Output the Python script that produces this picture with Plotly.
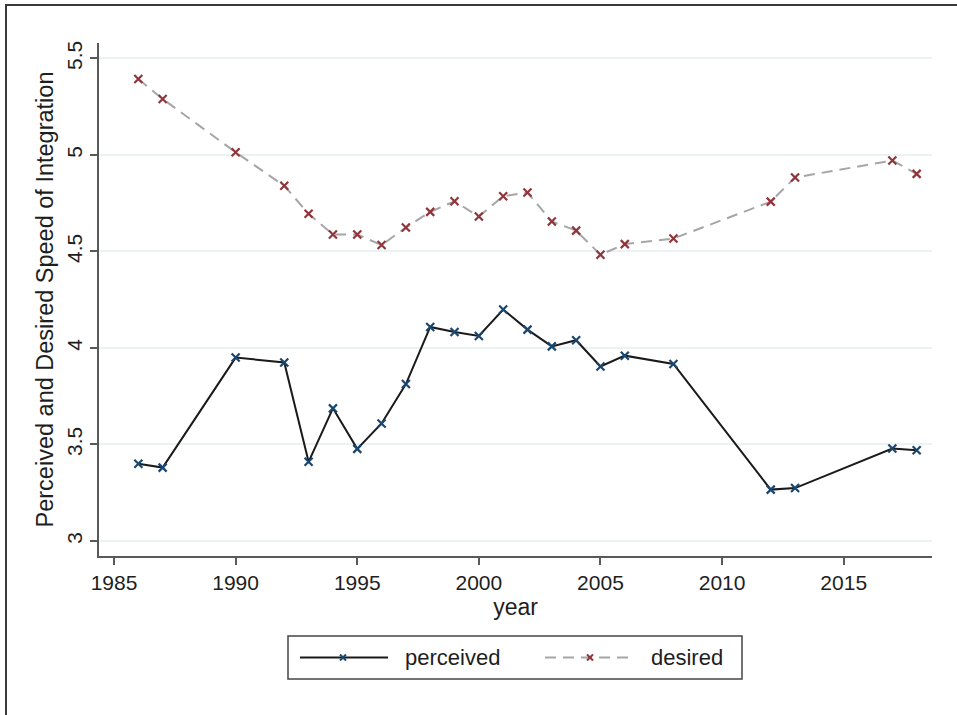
import plotly.graph_objects as go

# Survey years and mean scores
years = [1986, 1987, 1990, 1992, 1993, 1994, 1995, 1996, 1997, 1998, 1999, 2000,
         2001, 2002, 2003, 2004, 2005, 2006, 2008, 2012, 2013, 2017, 2018]
perceived = [3.40, 3.38, 3.95, 3.925, 3.41, 3.687, 3.477, 3.609, 3.813, 4.109, 4.083, 4.062,
             4.199, 4.095, 4.008, 4.040, 3.904, 3.960, 3.917, 3.266, 3.274, 3.479, 3.470]
desired = [5.393, 5.290, 5.014, 4.840, 4.695, 4.588, 4.588, 4.533, 4.624, 4.705, 4.760, 4.681,
           4.786, 4.805, 4.655, 4.608, 4.483, 4.538, 4.567, 4.758, 4.883, 4.971, 4.902]

x_ticks = [1985, 1990, 1995, 2000, 2005, 2010, 2015]
y_ticks = [3, 3.5, 4, 4.5, 5, 5.5]
y_ticklabels = ["3", "3.5", "4", "4.5", "5", "5.5"]

FONT = "Liberation Sans, Arial, sans-serif"
TXT = "#1e1e1e"
NAVY = "#1a476f"
MAROON = "#90353b"
AXIS = "#595959"
GREY_LINE = "#a6a6a6"

fig = go.Figure()
fig.add_trace(go.Scatter(
    x=years, y=perceived, mode="lines+markers", name="perceived",
    line=dict(color="#1a1a1a", width=2),
    marker=dict(symbol="x-thin", size=8, line=dict(color=NAVY, width=2.2)),
    showlegend=False,
))
fig.add_trace(go.Scatter(
    x=years, y=desired, mode="lines+markers", name="desired",
    line=dict(color=GREY_LINE, width=2, dash="11px,7px"),
    marker=dict(symbol="x-thin", size=8, line=dict(color=MAROON, width=2.2)),
    showlegend=False,
))

W, H = 957, 715
L, R, T, B = 99, 932, 43, 556


def px(x):
    return (x - L) / (R - L)


def py(y):
    return (B - y) / (B - T)


shapes = []
# outer frame
shapes.append(dict(type="rect", xref="paper", yref="paper",
                   x0=px(6), x1=px(965), y0=py(725), y1=py(5),
                   line=dict(color="#3a3a3a", width=2), fillcolor="rgba(0,0,0,0)", layer="below"))
# legend box
shapes.append(dict(type="rect", xref="paper", yref="paper",
                   x0=px(288), x1=px(742), y0=py(679), y1=py(636),
                   line=dict(color="#444444", width=1.5), fillcolor="white"))
ly = 657.5
# legend samples
shapes.append(dict(type="line", xref="paper", yref="paper",
                   x0=px(300), x1=px(388), y0=py(ly), y1=py(ly),
                   line=dict(color="#1a1a1a", width=2)))
shapes.append(dict(type="line", xref="paper", yref="paper",
                   x0=px(545), x1=px(635), y0=py(ly), y1=py(ly),
                   line=dict(color=GREY_LINE, width=2, dash="11px,7px")))
for cx, col in [(343, NAVY), (590, MAROON)]:
    for d in (1, -1):
        shapes.append(dict(type="line", xref="paper", yref="paper",
                           x0=px(cx - 3), x1=px(cx + 3), y0=py(ly - 3 * d), y1=py(ly + 3 * d),
                           line=dict(color=col, width=2)))

annotations = [
    dict(text="perceived", xref="paper", yref="paper", x=px(403), y=py(ly),
         xanchor="left", yanchor="middle", showarrow=False,
         font=dict(family=FONT, size=22, color=TXT)),
    dict(text="desired", xref="paper", yref="paper", x=px(649), y=py(ly),
         xanchor="left", yanchor="middle", showarrow=False,
         font=dict(family=FONT, size=22, color=TXT)),
]

fig.update_layout(
    width=W, height=H,
    margin=dict(l=L, r=W - R, t=T, b=H - B, pad=0),
    paper_bgcolor="white", plot_bgcolor="white",
    font=dict(family=FONT, size=21, color=TXT),
    shapes=shapes, annotations=annotations,
    showlegend=False,
)
fig.update_xaxes(
    range=[1984.383, 2018.63], tickvals=x_ticks, ticktext=[str(v) for v in x_ticks],
    showgrid=False, zeroline=False,
    showline=True, linecolor=AXIS, linewidth=2,
    ticks="outside", ticklen=7, tickwidth=1.5, tickcolor=AXIS,
    tickfont=dict(family=FONT, size=21, color=TXT),
    title=dict(text="year", font=dict(family=FONT, size=23, color=TXT), standoff=4),
    automargin=False,
)
fig.update_yaxes(
    range=[2.922, 5.580], tickvals=y_ticks, ticktext=y_ticklabels, tickangle=-90,
    showgrid=True, gridcolor="#eaf2f3", gridwidth=1.5, zeroline=False,
    showline=True, linecolor=AXIS, linewidth=2,
    ticks="outside", ticklen=7, tickwidth=1.5, tickcolor=AXIS,
    tickfont=dict(family=FONT, size=21, color=TXT),
    title=dict(text="Perceived and Desired Speed of Integration",
               font=dict(family=FONT, size=23.5, color=TXT), standoff=2),
    automargin=False,
)

fig.write_html("out.html")
